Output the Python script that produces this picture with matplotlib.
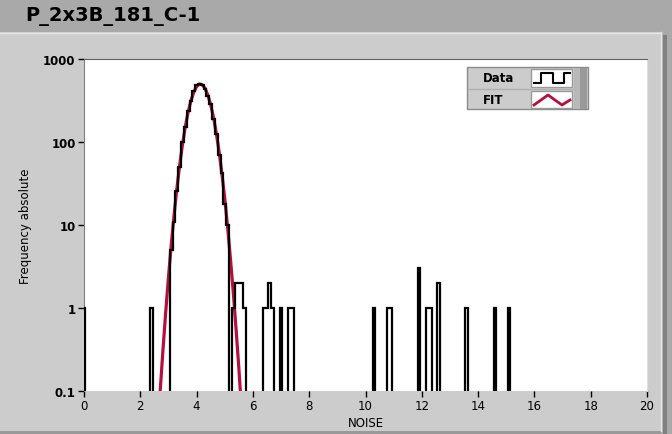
import numpy as np
import matplotlib
matplotlib.use('Agg')
import matplotlib.pyplot as plt
from matplotlib.patches import Rectangle

plt.rcParams['font.family'] = ['DejaVu Sans']

###
### DATA
###

title = 'P_2x3B_181_C-1'
x_label = 'NOISE'
y_label = 'Frequency absolute'

# histogram: bins of width 0.1 centred on the listed values, only non-empty bins listed
bin_centres = [0.0, 2.4,
               3.1, 3.2, 3.3, 3.4, 3.5, 3.6, 3.7, 3.8, 3.9, 4.0,
               4.1, 4.2, 4.3, 4.4, 4.5, 4.6, 4.7, 4.8, 4.9, 5.0, 5.1,
               5.3, 5.4, 5.5, 5.6, 5.7,
               6.4, 6.5, 6.6, 6.7, 7.0, 7.3, 7.4,
               10.3, 10.8, 10.9, 11.9, 12.2, 12.3, 12.6,
               13.6, 14.6, 15.1]
bin_counts = [1, 1,
              5, 11, 26, 50, 100, 150, 235, 310, 410, 480,
              505, 490, 430, 360, 285, 190, 125, 70, 42, 18, 10,
              1, 2, 2, 2, 1,
              1, 1, 2, 1, 1, 1, 1,
              1, 1, 1, 3, 1, 1, 2,
              1, 1, 1]
bin_width = 0.1

# fit curve
fit_x = [2.7, 2.8, 2.9, 3.0, 3.1, 3.2, 3.3, 3.4, 3.5, 3.6, 3.7, 3.8, 3.9, 4.0,
         4.1, 4.2, 4.3, 4.4, 4.5, 4.6, 4.7, 4.8, 4.9, 5.0, 5.1, 5.2, 5.3,
         5.4, 5.5, 5.6]
fit_y = [0.093, 0.296, 0.87, 2.34, 5.8, 13.2, 27.7, 53, 94, 154, 230, 316, 400, 466,
         498, 490, 443, 368, 281, 198, 128, 76, 41, 21, 9.6, 4.0, 1.59,
         0.57, 0.19, 0.057]

x_ticks = [0, 2, 4, 6, 8, 10, 12, 14, 16, 18, 20]
y_ticks = [0.1, 1, 10, 100, 1000]
y_ticklabels = ['0.1', '1', '10', '100', '1000']

fit_colour = '#b3103e'
panel = '#cccccc'

###
### FIGURE
###

W, H = 672, 435
fig = plt.figure(figsize=(W / 100, H / 100), dpi=100, facecolor=panel)

# background decoration in pixel coords
bg = fig.add_axes([0, 0, 1, 1], zorder=-5)
bg.set_xlim(0, W)
bg.set_ylim(H, 0)
bg.axis('off')
bg.add_patch(Rectangle((0, 0), W, 33, color='#a9a9a9', lw=0))
bg.add_patch(Rectangle((661, 33), 11, H - 33, color='#a9a9a9', lw=0))
bg.add_patch(Rectangle((663, 36), 4, H - 36, color='#808080', lw=0))
bg.add_patch(Rectangle((0, 432), 661, 3, color='#999999', lw=0))
bg.plot([0, 661], [33.5, 33.5], color='#e6e6e6', lw=1)
bg.plot([660.5, 660.5], [33, 432], color='#e6e6e6', lw=1)
bg.text(25, 16, title, fontsize=14, fontweight='bold', va='center', ha='left')

# main plot
ax = fig.add_axes([84 / W, 1 - 392 / H, (647 - 84) / W, (392 - 60) / H])
ax.set_facecolor('white')

edges = np.arange(0, 201) * bin_width - bin_width / 2
vals = np.full(200, 1e-3)
for c, n in zip(bin_centres, bin_counts):
    vals[int(round(c / bin_width))] = n

ax.plot(fit_x, fit_y, color=fit_colour, lw=2.3, zorder=2)
ax.stairs(vals, edges, baseline=1e-3, color='black', lw=1.6, zorder=3)

ax.set_yscale('log')
ax.set_xlim(0, 20)
ax.set_ylim(0.1, 1000)
ax.set_xticks(x_ticks)
ax.set_yticks(y_ticks)
ax.set_yticklabels(y_ticklabels)
ax.minorticks_off()
ax.tick_params(axis='both', direction='out', length=4, width=1, colors='black',
               labelsize=8.5, pad=2)
for lab in ax.get_yticklabels():
    lab.set_fontweight('bold')
ax.spines['bottom'].set_visible(False)
ax.spines['left'].set_color('#808080')
ax.spines['top'].set_color('#606060')
ax.spines['right'].set_color('#e0e0e0')
ax.set_xlabel(x_label, fontsize=8.5, labelpad=3)
ax.set_ylabel(y_label, fontsize=8.5, labelpad=8)

# legend, drawn on an overlay in pixel coords
lg = fig.add_axes([0, 0, 1, 1], zorder=10)
lg.set_xlim(0, W)
lg.set_ylim(H, 0)
lg.axis('off')
lg.add_patch(Rectangle((467, 68), 121, 42, facecolor=panel, edgecolor='#8a8a8a', lw=1))
lg.add_patch(Rectangle((574, 69), 6, 41, color='#b8b8b8', lw=0))
lg.add_patch(Rectangle((580, 69), 7, 41, color='#999999', lw=0))
lg.plot([468, 574], [89.5, 89.5], color='#b0b0b0', lw=1)
lg.add_patch(Rectangle((531, 70), 41, 18, facecolor='white', edgecolor='#9a9a9a', lw=1))
lg.add_patch(Rectangle((531, 92), 41, 17, facecolor='white', edgecolor='#9a9a9a', lw=1))
lg.text(483, 79, 'Data', fontsize=8.5, fontweight='bold', va='center')
lg.text(483, 100, 'FIT', fontsize=8.5, fontweight='bold', va='center')
lg.plot([534, 541, 541, 553, 553, 564, 564, 570], [84, 84, 74, 74, 84, 84, 74, 74],
        color='black', lw=1.5)
lg.plot([534, 548, 562, 570], [106, 96, 106, 101], color=fit_colour, lw=2)

fig.savefig('out.png', dpi=100, facecolor=fig.get_facecolor())
